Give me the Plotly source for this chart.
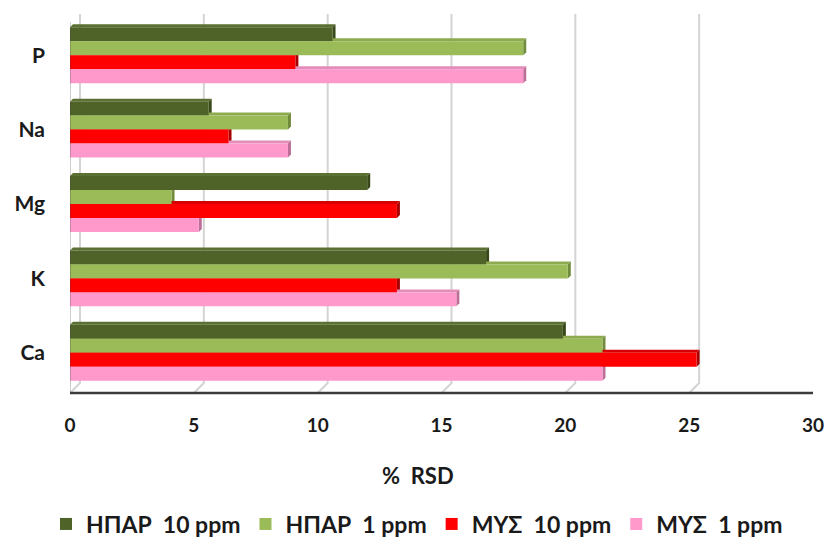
import plotly.graph_objects as go

# ---- data -------------------------------------------------------------
categories = ["P", "Na", "Mg", "K", "Ca"]
hpar_10 = [10.6, 5.6, 12.0, 16.8, 19.9]
hpar_1 = [18.3, 8.8, 4.1, 20.1, 21.5]
mys_10 = [9.1, 6.4, 13.2, 13.2, 25.3]
mys_1 = [18.3, 8.8, 5.2, 15.6, 21.5]
series_names = ["ΗΠΑΡ\u00a0 10 ppm", "ΗΠΑΡ\u00a0 1 ppm", "ΜΥΣ\u00a0 10 ppm", "ΜΥΣ\u00a0 1 ppm"]
x_ticks = [0, 5, 10, 15, 20, 25, 30]
x_title = "%\u00a0 RSD"

# ---- styling ----------------------------------------------------------
W, H = 826, 540
MARGIN = dict(l=70, r=13, t=18, b=150, autoexpand=False)
PLOT_W = W - MARGIN["l"] - MARGIN["r"]
PLOT_H = H - MARGIN["t"] - MARGIN["b"]
X_MAX = 30
BARGAP = 0.248
FONT = "Lato"
TEXT = "#1a1a1a"

front_col = ["#4F6228", "#9BBB59", "#FF0000", "#FF99CC"]
top_col = ["#5B7033", "#8DAA4F", "#D60000", "#E38DBA"]
side_col = ["#394819", "#718B3D", "#A80000", "#BC6E97"]

series = [hpar_10, hpar_1, mys_10, mys_1]

fig = go.Figure()
for name, vals, col in zip(series_names, series, front_col):
    fig.add_trace(go.Bar(
        y=categories, x=vals, orientation="h", name=name,
        marker=dict(color=col, line=dict(width=0)),
        hoverinfo="x+name",
    ))

shapes = []

# back-wall gridlines that bend down onto the floor edge
for v in x_ticks:
    shapes.append(dict(
        type="path", layer="below",
        xref="x", xsizemode="pixel", xanchor=v,
        yref="paper", ysizemode="pixel", yanchor=0,
        path="M0,-3 L10,7 L10,376",
        line=dict(color="#D4D4D4", width=2),
    ))

# left wall and floor front edge
shapes.append(dict(
    type="path", layer="above",
    xref="x", xsizemode="pixel", xanchor=0,
    yref="paper", ysizemode="pixel", yanchor=0,
    path="M-1,-3 L-1,368",
    line=dict(color="#3C3C3C", width=2.5),
))
shapes.append(dict(
    type="line", layer="above",
    xref="x", x0=0, x1=X_MAX,
    yref="paper", ysizemode="pixel", yanchor=0, y0=-3, y1=-3,
    line=dict(color="#3C3C3C", width=2.5),
))

# shallow 3-D faces: a top strip and a right-hand end cap on every bar
px_x = PLOT_W / X_MAX
px_y = PLOT_H / len(categories)
dx = 3.0 / px_x
dy = 3.0 / px_y
bw = (1 - BARGAP) / len(series)
for k, vals in enumerate(series):
    for c, v in enumerate(vals):
        y_top = c - (1 - BARGAP) / 2 + k * bw
        y_bot = y_top + bw
        shapes.append(dict(
            type="path", layer="between", xref="x", yref="y",
            path=f"M0,{y_top} L{v},{y_top} L{v + dx},{y_top - dy} L{dx},{y_top - dy} Z",
            fillcolor=top_col[k], line=dict(width=0),
        ))
        shapes.append(dict(
            type="path", layer="between", xref="x", yref="y",
            path=f"M{v},{y_top} L{v + dx},{y_top - dy} L{v + dx},{y_bot - dy} L{v},{y_bot} Z",
            fillcolor=side_col[k], line=dict(width=0),
        ))

fig.update_layout(
    width=W, height=H,
    margin=MARGIN,
    paper_bgcolor="white", plot_bgcolor="white",
    barmode="group", bargap=BARGAP, bargroupgap=0,
    font=dict(family=FONT, color=TEXT),
    shapes=shapes,
    xaxis=dict(
        range=[0, X_MAX], tickvals=x_ticks, showgrid=False, zeroline=False,
        showline=False, ticks="", ticklabelstandoff=22,
        tickfont=dict(family=FONT, size=19, color=TEXT, weight="bold"),
        fixedrange=True,
    ),
    yaxis=dict(
        type="category", categoryorder="array", categoryarray=categories,
        range=[len(categories) - 0.5, -0.5],
        showgrid=False, zeroline=False, showline=False, ticks="",
        ticklabelstandoff=24,
        tickfont=dict(family=FONT, size=21, color=TEXT, weight="bold"),
        fixedrange=True,
    ),
    annotations=[dict(
        text=x_title, xref="paper", yref="paper",
        x=(418 - MARGIN["l"]) / PLOT_W, y=-85 / PLOT_H,
        xanchor="center", yanchor="middle", showarrow=False,
        font=dict(family=FONT, size=22, color=TEXT, weight="bold"),
    )],
    legend=dict(
        orientation="h", xanchor="left", yanchor="middle",
        x=-24 / PLOT_W, y=-134 / PLOT_H,
        font=dict(family=FONT, size=23, color=TEXT, weight="bold"),
        traceorder="normal", bgcolor="rgba(0,0,0,0)",
    ),
)

fig.write_html("out.html")
